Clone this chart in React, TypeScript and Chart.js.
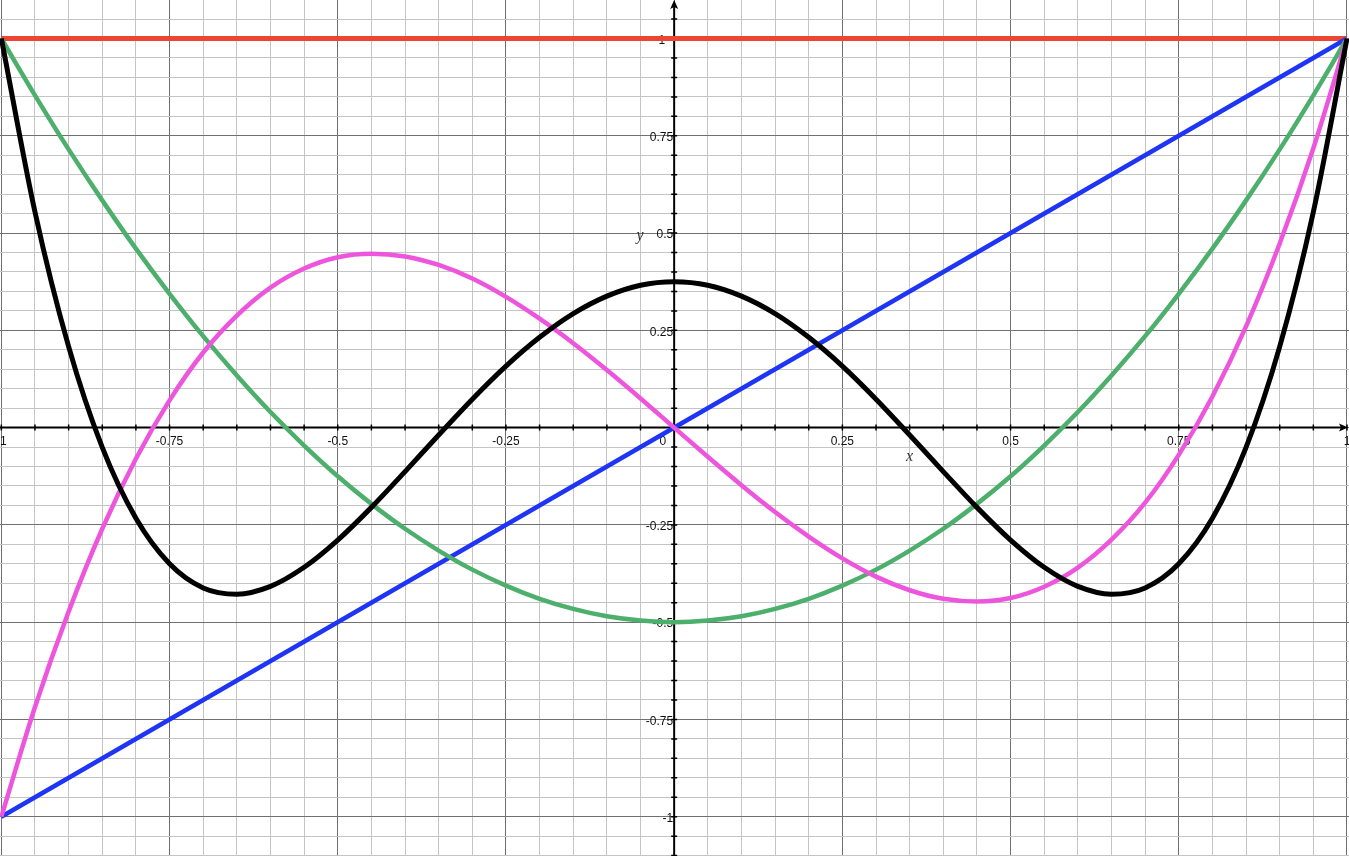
import { useEffect, useRef } from "react";
import { Chart, registerables } from "chart.js";

Chart.register(...registerables);

// sample positions along x (every 0.05)
const xValues = [
  -1, -0.95, -0.9, -0.85, -0.8, -0.75, -0.7, -0.65, -0.6, -0.55, -0.5, -0.45,
  -0.4, -0.35, -0.3, -0.25, -0.2, -0.15, -0.1, -0.05, 0, 0.05, 0.1, 0.15, 0.2,
  0.25, 0.3, 0.35, 0.4, 0.45, 0.5, 0.55, 0.6, 0.65, 0.7, 0.75, 0.8, 0.85, 0.9,
  0.95, 1,
];

// straight lines only need their end points
const redX = [-1, 1];
const redY = [1, 1];
const blueX = [-1, 1];
const blueY = [-1, 1];

const greenY = [
  1, 0.854, 0.715, 0.584, 0.46, 0.344, 0.235, 0.134, 0.04, -0.046, -0.125,
  -0.196, -0.26, -0.316, -0.365, -0.406, -0.44, -0.466, -0.485, -0.496, -0.5,
  -0.496, -0.485, -0.466, -0.44, -0.406, -0.365, -0.316, -0.26, -0.196, -0.125,
  -0.046, 0.04, 0.134, 0.235, 0.344, 0.46, 0.584, 0.715, 0.854, 1,
];

const magentaY = [
  -1, -0.718, -0.473, -0.26, -0.08, 0.07, 0.193, 0.288, 0.36, 0.409, 0.438,
  0.447, 0.44, 0.418, 0.383, 0.336, 0.28, 0.217, 0.148, 0.075, 0, -0.075,
  -0.148, -0.217, -0.28, -0.336, -0.383, -0.418, -0.44, -0.447, -0.438, -0.409,
  -0.36, -0.288, -0.193, -0.07, 0.08, 0.26, 0.473, 0.718, 1,
];

const blackY = [
  1, 0.554, 0.208, -0.051, -0.233, -0.35, -0.412, -0.428, -0.408, -0.359,
  -0.289, -0.205, -0.113, -0.019, 0.073, 0.158, 0.232, 0.293, 0.338, 0.366,
  0.375, 0.366, 0.338, 0.293, 0.232, 0.158, 0.073, -0.019, -0.113, -0.205,
  -0.289, -0.359, -0.408, -0.428, -0.412, -0.35, -0.233, -0.051, 0.208, 0.554,
  1,
];

const xTickValues = [-1, -0.75, -0.5, -0.25, 0, 0.25, 0.5, 0.75, 1];
const xTickLabels = ["-1", "-0.75", "-0.5", "-0.25", "0", "0.25", "0.5", "0.75", "1"];
const yTickValues = [1, 0.75, 0.5, 0.25, -0.25, -0.5, -0.75, -1];
const yTickLabels = ["1", "0.75", "0.5", "0.25", "-0.25", "-0.5", "-0.75", "-1"];

const toPoints = (xs: number[], ys: number[]) =>
  xs.map((x, i) => ({ x, y: ys[i] }));

const isMajor = (v: number) => Math.abs(v / 0.25 - Math.round(v / 0.25)) < 1e-6;

const gridTicks = (scale: any) => {
  const ticks = [];
  for (let i = -24; i <= 24; i++) {
    const v = +(i * 0.05).toFixed(2);
    if (v >= scale.min && v <= scale.max) ticks.push({ value: v });
  }
  scale.ticks = ticks;
};

const axesPlugin = {
  id: "axes",
  beforeDatasetsDraw(chart: any) {
    const { ctx, scales } = chart;
    const xs = scales.x;
    const ys = scales.y;
    const x0 = xs.getPixelForValue(0);
    const y0 = ys.getPixelForValue(0);
    const w = chart.width;
    const h = chart.height;

    ctx.save();
    ctx.strokeStyle = "#000";
    ctx.fillStyle = "#000";
    ctx.lineWidth = 2;
    ctx.beginPath();
    ctx.moveTo(0, y0);
    ctx.lineTo(w - 4, y0);
    ctx.moveTo(x0, h);
    ctx.lineTo(x0, 4);
    ctx.stroke();

    // small tick marks on the axes
    ctx.lineWidth = 1.5;
    ctx.beginPath();
    xs.ticks.forEach((t: any) => {
      if (Math.abs(t.value) < 1e-6) return;
      const px = xs.getPixelForValue(t.value);
      ctx.moveTo(px, y0 - 3);
      ctx.lineTo(px, y0 + 3);
    });
    ys.ticks.forEach((t: any) => {
      if (Math.abs(t.value) < 1e-6) return;
      const py = ys.getPixelForValue(t.value);
      ctx.moveTo(x0 - 3, py);
      ctx.lineTo(x0 + 3, py);
    });
    ctx.stroke();

    // arrow heads
    ctx.beginPath();
    ctx.moveTo(x0, 0);
    ctx.lineTo(x0 - 4, 9);
    ctx.lineTo(x0, 7);
    ctx.lineTo(x0 + 4, 9);
    ctx.closePath();
    ctx.fill();
    ctx.beginPath();
    ctx.moveTo(w - 1, y0);
    ctx.lineTo(w - 10, y0 - 4);
    ctx.lineTo(w - 8, y0);
    ctx.lineTo(w - 10, y0 + 4);
    ctx.closePath();
    ctx.fill();

    // tick labels
    ctx.font = "12px 'Liberation Sans', Arial, sans-serif";
    ctx.fillStyle = "#111";
    ctx.textBaseline = "middle";
    xTickValues.forEach((v, i) => {
      const px = xs.getPixelForValue(v);
      if (v === 0) {
        ctx.textAlign = "right";
        ctx.fillText(xTickLabels[i], x0 - 8, y0 + 14);
      } else {
        ctx.textAlign = "center";
        ctx.fillText(xTickLabels[i], px, y0 + 14);
      }
    });
    ctx.textAlign = "right";
    yTickValues.forEach((v, i) => {
      const py = ys.getPixelForValue(v);
      const off = v === 1 ? 9 : 1;
      ctx.fillText(yTickLabels[i], x0 - off, py + 2);
    });

    // axis names
    ctx.font = "italic 16px 'Liberation Serif', 'Times New Roman', serif";
    ctx.fillStyle = "#333";
    ctx.textAlign = "center";
    ctx.fillText("y", x0 - 34, ys.getPixelForValue(0.5) + 3);
    ctx.fillText("x", xs.getPixelForValue(0.35), y0 + 29);
    ctx.restore();
  },
};

export default function App() {
  const canvasRef = useRef<HTMLCanvasElement>(null);

  useEffect(() => {
    const ctx = canvasRef.current!.getContext("2d")!;

    const line = (data: { x: number; y: number }[], color: string, width: number, order: number) => ({
      data,
      borderColor: color,
      borderWidth: width,
      pointRadius: 0,
      fill: false,
      cubicInterpolationMode: "monotone" as const,
      order,
    });

    const chart = new Chart(ctx, {
      type: "line",
      data: {
        datasets: [
          line(toPoints(xValues, blackY), "#000000", 5, 0),
          line(toPoints(xValues, magentaY), "#ee55dd", 4.5, 1),
          line(toPoints(xValues, greenY), "#4caf6b", 4.5, 2),
          line(toPoints(blueX, blueY), "#1f35f5", 4.5, 3),
          line(toPoints(redX, redY), "#ee4433", 5, 4),
        ],
      },
      options: {
        animation: false,
        responsive: true,
        maintainAspectRatio: false,
        events: [],
        layout: { padding: 0 },
        plugins: {
          legend: { display: false },
          tooltip: { enabled: false },
        },
        scales: {
          x: {
            type: "linear",
            min: -1.002,
            max: 1.003,
            afterBuildTicks: gridTicks,
            ticks: { display: false },
            border: { display: false },
            grid: {
              drawTicks: false,
              lineWidth: 1,
              color: (c: any) => (isMajor(c.tick.value) ? "#707070" : "#c4c4c4"),
            },
          },
          y: {
            type: "linear",
            min: -1.101,
            max: 1.099,
            afterBuildTicks: gridTicks,
            ticks: { display: false },
            border: { display: false },
            grid: {
              drawTicks: false,
              lineWidth: 1,
              color: (c: any) => (isMajor(c.tick.value) ? "#707070" : "#c4c4c4"),
            },
          },
        },
      },
      plugins: [axesPlugin],
    });

    return () => {
      chart.destroy();
    };
  }, []);

  return (
    <div
      style={{
        position: "fixed",
        left: 0,
        top: 0,
        width: "1349px",
        height: "856px",
        background: "#fff",
      }}
    >
      <canvas ref={canvasRef} />
    </div>
  );
}
